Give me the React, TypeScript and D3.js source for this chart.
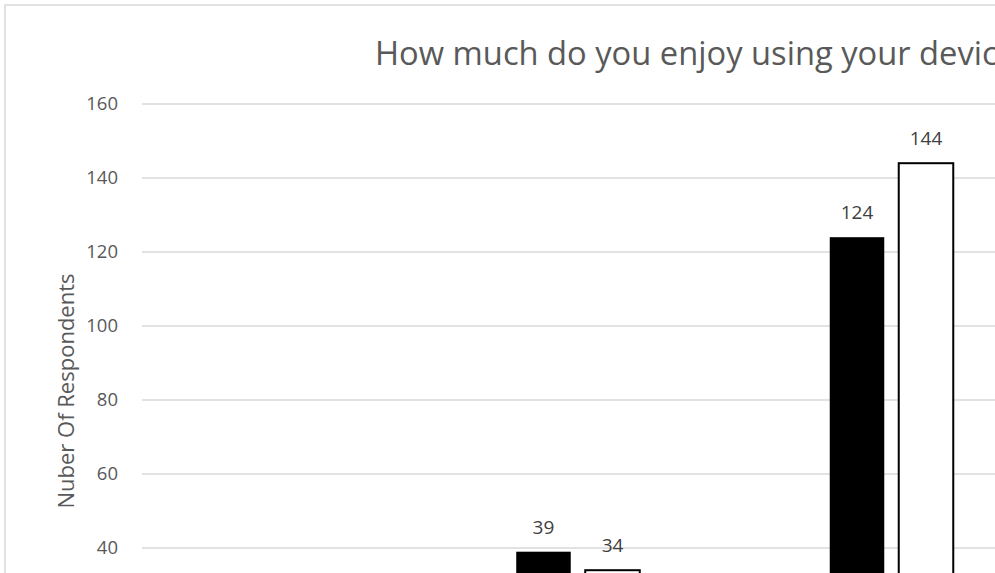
import React from "react";
import * as d3 from "d3";

const categories = ["Not at all", "Somewhat", "Very much"];
const seriesNames = ["Before", "After"];
const beforeValues = [25, 39, 124];
const afterValues = [10, 34, 144];
const yTicks = [0, 20, 40, 60, 80, 100, 120, 140, 160];

const W = 995;
const H = 573;
const FONT = "'Open Sans', 'Liberation Sans', sans-serif";

export default function App() {
  const y = d3.scaleLinear().domain([0, 160]).range([696, 104]);
  const step = 313.5;
  const x0 = d3
    .scaleBand<string>()
    .domain(categories)
    .range([107.75, 107.75 + step * categories.length])
    .paddingInner(0.606)
    .paddingOuter(0.303);
  const x1 = d3
    .scaleBand<string>()
    .domain(seriesNames)
    .range([0, x0.bandwidth()])
    .paddingInner(0.21);

  const rows = categories.map((c, i) => ({
    c,
    vals: [beforeValues[i], afterValues[i]],
  }));

  return (
    <svg
      width={W}
      height={H}
      style={{ position: "absolute", left: 0, top: 0, background: "#fff" }}
      fontFamily={FONT}
    >
      <rect x={5} y={5} width={2000} height={2000} fill="#fff" stroke="#d9d9d9" strokeWidth={1.5} />
      <text x={375} y={65} fontSize={32.7} fill="#595959">
        How much do you enjoy using your device?
      </text>
      {yTicks.map((t) => (
        <g key={t}>
          <line x1={142} x2={2000} y1={y(t)} y2={y(t)} stroke="#d9d9d9" strokeWidth={1.5} />
          <text x={118} y={y(t)} dy="0.35em" textAnchor="end" fontSize={18.5} fill="#595959">
            {t}
          </text>
        </g>
      ))}
      <text
        transform={`translate(74, 391) rotate(-90)`}
        textAnchor="middle"
        fontSize={22}
        fill="#595959"
      >
        Nuber Of Respondents
      </text>
      {rows.map((r) => (
        <g key={r.c} transform={`translate(${x0(r.c)},0)`}>
          {r.vals.map((v, j) => {
            const bx = x1(seriesNames[j])!;
            const bw = x1.bandwidth();
            return (
              <g key={j}>
                <rect
                  x={bx}
                  y={y(v)}
                  width={bw}
                  height={y(0) - y(v)}
                  fill={j === 0 ? "#000" : "#fff"}
                  stroke="#000"
                  strokeWidth={j === 0 ? 0 : 2}
                />
                <text
                  x={bx + bw / 2}
                  y={y(v) - 18}
                  textAnchor="middle"
                  fontSize={19}
                  fill="#404040"
                >
                  {v}
                </text>
              </g>
            );
          })}
          <text x={x0.bandwidth() / 2} y={725} textAnchor="middle" fontSize={18.5} fill="#595959">
            {r.c}
          </text>
        </g>
      ))}
    </svg>
  );
}
